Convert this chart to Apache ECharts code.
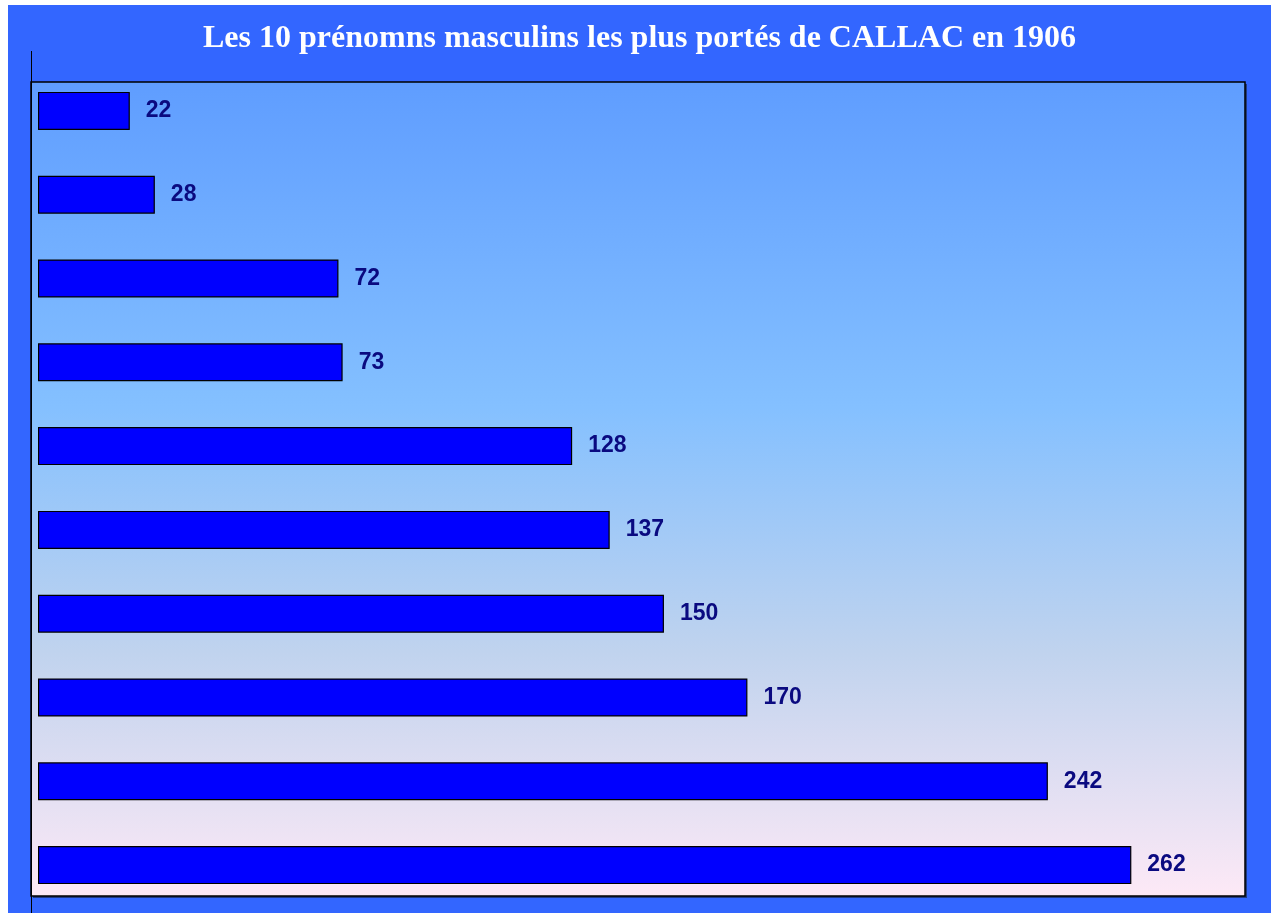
<!DOCTYPE html>
<html>
<head>
<meta charset="utf-8">
<script src="https://cdn.jsdelivr.net/npm/echarts@6/dist/echarts.min.js"></script>
<style>
  html, body { margin: 0; padding: 0; background: #fff; }
  #main { position: absolute; left: 8px; top: 5px; width: 1263px; height: 908px; }
</style>
</head>
<body>
<div id="main"></div>
<script>
// données (de haut en bas)
const categories = ['P1', 'P2', 'P3', 'P4', 'P5', 'P6', 'P7', 'P8', 'P9', 'P10'];
const values = [22, 28, 72, 73, 128, 137, 150, 170, 242, 262];

const chart = echarts.init(document.getElementById('main'));
// cadre du graphique (coordonnées dans le conteneur)
const plot = { x: 23, y: 77, w: 1214, h: 814 };

const option = {
  backgroundColor: '#3366ff',
  animation: false,
  title: {
    text: 'Les 10 prénomns masculins les plus portés de CALLAC en 1906',
    left: 'center',
    top: 13,
    textStyle: {
      color: '#ffffff',
      fontFamily: 'Liberation Serif, Times New Roman, serif',
      fontWeight: 'bold',
      fontSize: 32
    }
  },
  graphic: [
    {
      type: 'rect',
      z: -10,
      shape: { x: plot.x + 2, y: plot.y + 2, width: plot.w, height: plot.h },
      style: { fill: '#1f3a80' }
    },
    {
      type: 'rect',
      z: -9,
      shape: { x: plot.x, y: plot.y, width: plot.w, height: plot.h },
      style: {
        fill: new echarts.graphic.LinearGradient(0, 0, 0, 1, [
          { offset: 0, color: '#5f9dff' },
          { offset: 0.4, color: '#84c0ff' },
          { offset: 0.7, color: '#c0d3ee' },
          { offset: 1, color: '#fde9f6' }
        ]),
        stroke: '#000000',
        lineWidth: 1.5
      }
    },
    {
      type: 'line',
      z: -8,
      shape: { x1: 23.5, y1: 46, x2: 23.5, y2: 908 },
      style: { stroke: '#000000', lineWidth: 1 }
    }
  ],
  grid: {
    left: 30,
    right: 27,
    top: 64,
    bottom: 6
  },
  xAxis: {
    type: 'value',
    min: 0,
    max: 289,
    show: false
  },
  yAxis: {
    type: 'category',
    inverse: true,
    data: categories,
    show: false
  },
  series: [
    {
      type: 'bar',
      data: values,
      barWidth: 38,
      itemStyle: {
        color: '#0000ff',
        borderColor: '#000000',
        borderWidth: 1.2
      },
      label: {
        show: true,
        position: 'right',
        distance: 16,
        color: '#0a0a80',
        fontFamily: 'Liberation Sans, Arial, sans-serif',
        fontWeight: 'bold',
        fontSize: 23
      }
    }
  ]
};

chart.setOption(option);
window.addEventListener('resize', function () {
  chart.resize();
});
</script>
</body>
</html>
